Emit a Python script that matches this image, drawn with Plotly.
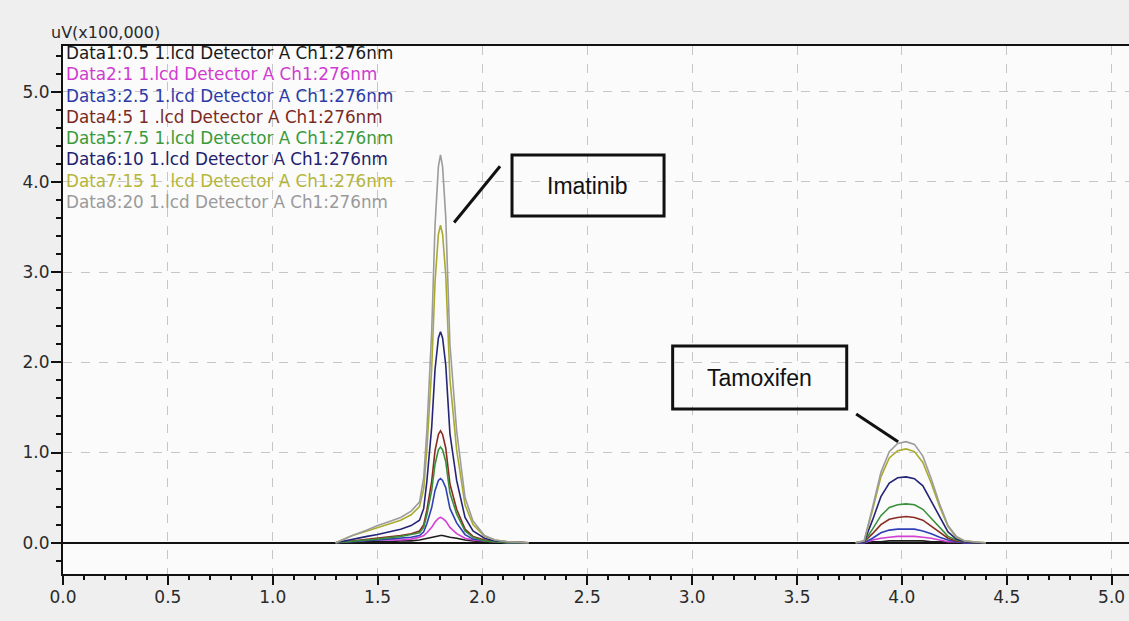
import plotly.graph_objects as go

# Retention time grids (min) for the two peak windows
imatinib_time = [1.30, 1.38, 1.45, 1.50, 1.55, 1.61, 1.66, 1.70, 1.72, 1.735, 1.758, 1.774,
                 1.79, 1.80, 1.81, 1.825, 1.845, 1.877, 1.917, 1.955, 2.01, 2.06, 2.12, 2.22]
tamoxifen_time = [3.78, 3.82, 3.86, 3.90, 3.94, 3.98, 4.02, 4.06, 4.10, 4.14, 4.18, 4.22,
                  4.26, 4.30, 4.34, 4.40]

# Detector signal, uV (x100,000)
data1_imatinib = [0, 0, 0.01, 0.01, 0.01, 0.02, 0.02, 0.03, 0.04, 0.05, 0.06, 0.07,
                  0.08, 0.08, 0.08, 0.07, 0.06, 0.05, 0.03, 0.02, 0.01, 0.01, 0, 0]
data2_imatinib = [0, 0.02, 0.03, 0.03, 0.03, 0.03, 0.04, 0.06, 0.08, 0.11, 0.17, 0.23,
                  0.27, 0.28, 0.27, 0.24, 0.17, 0.10, 0.05, 0.03, 0.02, 0.01, 0, 0]
data3_imatinib = [0, 0.01, 0.02, 0.03, 0.04, 0.05, 0.06, 0.08, 0.12, 0.21, 0.39, 0.58,
                  0.69, 0.71, 0.69, 0.61, 0.38, 0.22, 0.09, 0.04, 0.02, 0.01, 0, 0]
data4_imatinib = [0, 0.02, 0.04, 0.05, 0.06, 0.08, 0.10, 0.13, 0.20, 0.36, 0.68, 1.02,
                  1.20, 1.24, 1.20, 1.05, 0.65, 0.37, 0.15, 0.07, 0.03, 0.01, 0.01, 0]
data5_imatinib = [0, 0.02, 0.03, 0.04, 0.05, 0.07, 0.09, 0.11, 0.17, 0.31, 0.58, 0.87,
                  1.03, 1.06, 1.03, 0.90, 0.55, 0.32, 0.13, 0.06, 0.02, 0.01, 0, 0]
data6_imatinib = [0, 0.04, 0.07, 0.09, 0.12, 0.15, 0.19, 0.25, 0.38, 0.68, 1.28, 1.92,
                  2.27, 2.34, 2.27, 1.97, 1.21, 0.69, 0.28, 0.13, 0.05, 0.02, 0.01, 0]
data7_imatinib = [0, 0.08, 0.13, 0.17, 0.21, 0.25, 0.31, 0.40, 0.60, 1.03, 1.93, 2.89,
                  3.42, 3.52, 3.42, 2.97, 1.81, 1.03, 0.42, 0.20, 0.07, 0.03, 0.01, 0]
data8_imatinib = [0, 0.08, 0.14, 0.19, 0.23, 0.28, 0.35, 0.45, 0.72, 1.24, 2.34, 3.52,
                  4.17, 4.30, 4.17, 3.61, 2.20, 1.24, 0.50, 0.24, 0.08, 0.03, 0.01, 0]

data1_tamoxifen = [0, 0, 0.01, 0.01, 0.02, 0.02, 0.02, 0.02, 0.02, 0.01, 0.01, 0.01, 0, 0, 0, 0]
data2_tamoxifen = [0, 0, 0.03, 0.05, 0.06, 0.07, 0.07, 0.07, 0.06, 0.05, 0.03, 0.01, 0.01, 0, 0, 0]
data3_tamoxifen = [0, 0, 0.05, 0.11, 0.14, 0.15, 0.15, 0.15, 0.13, 0.10, 0.06, 0.03, 0.01, 0, 0, 0]
data4_tamoxifen = [0, 0.01, 0.10, 0.20, 0.26, 0.28, 0.29, 0.28, 0.25, 0.18, 0.11, 0.05, 0.02, 0.01, 0, 0]
data5_tamoxifen = [0, 0.01, 0.15, 0.30, 0.39, 0.42, 0.43, 0.42, 0.37, 0.27, 0.16, 0.07, 0.03, 0.01, 0, 0]
data6_tamoxifen = [0, 0.01, 0.25, 0.51, 0.66, 0.72, 0.73, 0.71, 0.63, 0.46, 0.28, 0.12, 0.04, 0.01, 0, 0]
data7_tamoxifen = [0, 0.02, 0.36, 0.73, 0.94, 1.02, 1.04, 1.01, 0.89, 0.66, 0.40, 0.18, 0.06, 0.02, 0.01, 0]
data8_tamoxifen = [0, 0.02, 0.39, 0.78, 1.01, 1.10, 1.12, 1.09, 0.96, 0.71, 0.43, 0.19, 0.07, 0.02, 0.01, 0]

series_labels = [
    "Data1:0.5 1.lcd Detector A Ch1:276nm",
    "Data2:1 1.lcd Detector A Ch1:276nm",
    "Data3:2.5 1.lcd Detector A Ch1:276nm",
    "Data4:5 1 .lcd Detector A Ch1:276nm",
    "Data5:7.5 1.lcd Detector A Ch1:276nm",
    "Data6:10 1.lcd Detector A Ch1:276nm",
    "Data7:15 1 .lcd Detector A Ch1:276nm",
    "Data8:20 1.lcd Detector A Ch1:276nm",
]
series_colors = ["#1e1e1e", "#d23fd2", "#2f3fb5", "#8a2b22",
                 "#3a8f3a", "#252577", "#aaaa2e", "#9c9c9c"]
label_colors = ["#1a1a1a", "#d03cd0", "#2b3aa8", "#7b2a1f",
                "#3a9a3a", "#22226e", "#b5b53a", "#9a9a9a"]

imatinib_signals = [data1_imatinib, data2_imatinib, data3_imatinib, data4_imatinib,
                    data5_imatinib, data6_imatinib, data7_imatinib, data8_imatinib]
tamoxifen_signals = [data1_tamoxifen, data2_tamoxifen, data3_tamoxifen, data4_tamoxifen,
                     data5_tamoxifen, data6_tamoxifen, data7_tamoxifen, data8_tamoxifen]

W, H = 1129, 621
ML, MR, MT, MB = 63, 0, 46, 47
X_RANGE = [0, 5.083]
Y_RANGE = [-0.347, 5.507]

fig = go.Figure()

for label, color, sig_a, sig_b in zip(series_labels, series_colors,
                                      imatinib_signals, tamoxifen_signals):
    fig.add_trace(go.Scatter(
        x=imatinib_time + [None] + tamoxifen_time,
        y=sig_a + [None] + sig_b,
        mode="lines",
        name=label,
        line=dict(color=color, width=1.6),
        connectgaps=False,
        showlegend=False,
        hoverinfo="skip",
    ))

tick_font = dict(family="DejaVu Sans", size=17, color="#2a2a2a")

fig.update_layout(
    width=W, height=H,
    margin=dict(l=ML, r=MR, t=MT, b=MB, pad=0),
    paper_bgcolor="#efefef",
    plot_bgcolor="#fbfbfb",
    xaxis=dict(
        range=X_RANGE, tick0=0, dtick=0.5, tickformat=".1f",
        ticks="outside", ticklen=9, tickwidth=1.5, tickcolor="#111",
        ticklabelstandoff=-2,
        showline=True, linecolor="#111", linewidth=2, mirror=True,
        showgrid=True, gridcolor="#c6c6c6", griddash="dash", gridwidth=1,
        zeroline=False, tickfont=tick_font,
        minor=dict(ticks="outside", ticklen=4, tickwidth=1.5, tickcolor="#111",
                   dtick=0.1, tick0=0, showgrid=False),
        fixedrange=True,
    ),
    yaxis=dict(
        range=Y_RANGE, tick0=0, dtick=1, tickformat=".1f",
        ticks="outside", ticklen=10, tickwidth=1.5, tickcolor="#111",
        ticklabelstandoff=-2,
        showline=True, linecolor="#111", linewidth=2, mirror=False,
        showgrid=True, gridcolor="#c6c6c6", griddash="dash", gridwidth=1,
        zeroline=True, zerolinecolor="#111", zerolinewidth=1.8,
        tickfont=tick_font,
        minor=dict(ticks="outside", ticklen=5, tickwidth=1.5, tickcolor="#111",
                   dtick=0.2, tick0=0, showgrid=False),
        fixedrange=True,
    ),
)

plot_w = W - ML - MR
plot_h = H - MT - MB


def paper_x(px):
    return (px - ML) / plot_w


def paper_y(py):
    return (H - MB - py) / plot_h


annotations = [
    dict(text="uV(x100,000)", xref="paper", yref="paper",
         x=paper_x(49), y=paper_y(33), xanchor="left", yanchor="middle",
         showarrow=False, font=dict(family="DejaVu Sans", size=16, color="#2a2a2a")),
]
for i, (label, color) in enumerate(zip(series_labels, label_colors)):
    annotations.append(dict(
        text=label, xref="paper", yref="paper",
        x=paper_x(64), y=paper_y(53.3 + i * 21.2),
        xanchor="left", yanchor="middle", showarrow=False,
        font=dict(family="DejaVu Sans", size=16.8, color=color),
    ))

box_font = dict(family="Liberation Sans", size=23, color="#111")
annotations.append(dict(text="Imatinib", x=2.503, y=3.96, xref="x", yref="y",
                        showarrow=False, font=box_font))
annotations.append(dict(text="Tamoxifen", x=3.322, y=1.83, xref="x", yref="y",
                        showarrow=False, font=box_font))

shapes = [
    dict(type="rect", xref="x", yref="y", x0=2.141, x1=2.866, y0=3.622, y1=4.298,
         line=dict(color="#111", width=3), layer="above"),
    dict(type="rect", xref="x", yref="y", x0=2.907, x1=3.737, y0=1.482, y1=2.181,
         line=dict(color="#111", width=3), layer="above"),
    dict(type="line", xref="x", yref="y", x0=2.084, y0=4.174, x1=1.865, y1=3.550,
         line=dict(color="#111", width=3), layer="above"),
    dict(type="line", xref="x", yref="y", x0=3.782, y0=1.427, x1=3.982, y1=1.120,
         line=dict(color="#111", width=3), layer="above"),
]

fig.update_layout(annotations=annotations, shapes=shapes)

fig.write_html("out.html")
